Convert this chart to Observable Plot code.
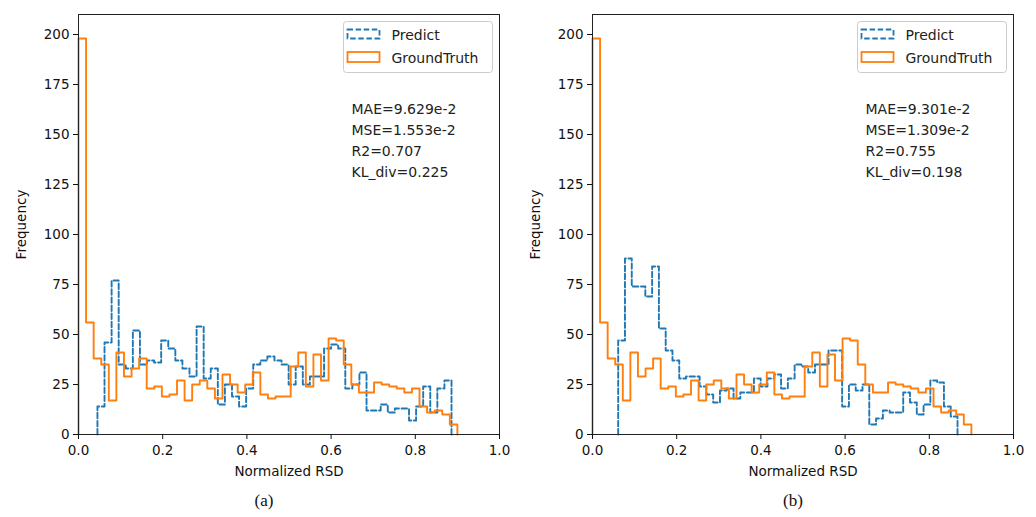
<!DOCTYPE html>
<html>
<head>
<meta charset="utf-8">
<script src="https://cdn.jsdelivr.net/npm/d3@7"></script>
<script src="https://cdn.jsdelivr.net/npm/@observablehq/plot@0.6"></script>
<style>
  html, body { margin: 0; padding: 0; background: #fff; }
  #wrap { position: relative; width: 1036px; height: 517px; overflow: hidden; font-family: "DejaVu Sans", sans-serif; }
  .panel { position: absolute; top: 0; width: 518px; height: 517px; }
  .panel svg.overlay { position: absolute; left: 0; top: 0; pointer-events: none; }
  .caption { position: absolute; top: 491px; font-family: "Liberation Serif", "Times New Roman", serif; font-size: 17px; color: #111; transform: translateX(-50%); }
</style>
</head>
<body>
<div id="wrap"></div>
<script>
// ---- data ----
const xTicks = [0, 0.2, 0.4, 0.6, 0.8, 1.0];
const yTicks = [0, 25, 50, 75, 100, 125, 150, 175, 200];
const seriesNames = ["Predict", "GroundTruth"];
const panelLabels = ["(a)", "(b)"];

// GroundTruth histogram (same in both panels): 50 bins over [0, 0.9]
const truthRange = [0, 0.9];
const truthCounts = [198, 56, 38, 35, 17, 41, 29, 33, 38, 23,
                     24, 19, 20, 27, 17, 25, 27, 23, 18, 30,
                     25, 21, 25, 31, 20, 18, 19, 19, 34, 41,
                     24, 40, 27, 48, 47, 35, 25, 21, 21, 26,
                     25, 24, 23, 21, 23, 14, 11, 12, 10, 5];

// Predict histogram, panel (a): 50 bins
const predictRangeA = [0.045, 0.886];
const predictCountsA = [14, 46, 77, 35, 33, 52, 35, 37, 36, 47,
                        43, 37, 33, 29, 54, 28, 33, 15, 25, 19,
                        14, 23, 35, 37, 39, 37, 35, 25, 34, 25,
                        29, 29, 43, 45, 43, 23, 25, 31, 12, 12,
                        15, 11, 13, 13, 7, 14, 24, 11, 23, 27];

// Predict histogram, panel (b): 50 bins
const predictRangeB = [0.061, 0.867];
const predictCountsB = [47, 88, 74, 74, 69, 84, 53, 42, 37, 28,
                        29, 29, 24, 20, 16, 22, 23, 18, 21, 21,
                        28, 24, 28, 30, 23, 28, 35, 34, 31, 35,
                        35, 42, 42, 14, 25, 22, 25, 5, 8, 12,
                        11, 11, 21, 16, 10, 15, 27, 26, 14, 9];

const statsA = ["MAE=9.629e-2", "MSE=1.553e-2", "R2=0.707", "KL_div=0.225"];
const statsB = ["MAE=9.301e-2", "MSE=1.309e-2", "R2=0.755", "KL_div=0.198"];

// ---- helpers ----
const BLUE = "#1f77b4", ORANGE = "#ff7f0e";

function stepPoints(range, counts) {
  const n = counts.length, w = (range[1] - range[0]) / n;
  const pts = [{x: range[0], y: 0}];
  counts.forEach((c, i) => {
    pts.push({x: range[0] + i * w, y: c});
    pts.push({x: range[0] + (i + 1) * w, y: c});
  });
  pts.push({x: range[1], y: 0});
  return pts;
}

function makePanel(left, predictRange, predictCounts, stats, caption, captionX) {
  const panel = document.createElement("div");
  panel.className = "panel";
  panel.style.left = left + "px";

  const chart = Plot.plot({
    width: 518,
    height: 478,
    marginLeft: 78,
    marginRight: 19,
    marginTop: 14,
    marginBottom: 44,
    style: {fontFamily: "DejaVu Sans, sans-serif", fontSize: "13.5px", color: "#111", background: "transparent"},
    x: {domain: [0, 1]},
    y: {domain: [0, 210]},
    marks: [
      Plot.line(stepPoints(predictRange, predictCounts), {x: "x", y: "y", stroke: BLUE, strokeWidth: 1.9, strokeDasharray: "5.5,2.6", curve: "linear"}),
      Plot.line(stepPoints(truthRange, truthCounts), {x: "x", y: "y", stroke: ORANGE, strokeWidth: 1.9, curve: "linear"}),
      Plot.frame({stroke: "#222", strokeWidth: 1}),
      Plot.axisX({ticks: xTicks, tickFormat: d3.format(".1f"), tickSize: 5, tickPadding: 6,
                  label: "Normalized RSD", labelAnchor: "center", labelArrow: "none", labelOffset: 41}),
      Plot.axisY({ticks: yTicks, tickSize: 5, tickPadding: 4,
                  label: "Frequency", labelAnchor: "center", labelArrow: "none", labelOffset: 62})
    ]
  });
  panel.appendChild(chart);

  // legend + stats overlay
  const ns = "http://www.w3.org/2000/svg";
  const ov = document.createElementNS(ns, "svg");
  ov.setAttribute("class", "overlay");
  ov.setAttribute("width", 518);
  ov.setAttribute("height", 470);
  const fnt = 'font-family="DejaVu Sans, sans-serif" font-size="14" fill="#222"';
  let s = `<rect x="343.5" y="21.5" width="149" height="51" rx="3" fill="white" fill-opacity="0.8" stroke="#cccccc" stroke-width="1"/>`;
  s += `<rect x="347.5" y="29.5" width="32" height="9" fill="none" stroke="${BLUE}" stroke-width="1.8" stroke-dasharray="5.5,2.6"/>`;
  s += `<text x="391.5" y="40" ${fnt}>${seriesNames[0]}</text>`;
  s += `<rect x="347.5" y="52" width="32" height="10" fill="none" stroke="${ORANGE}" stroke-width="1.8"/>`;
  s += `<text x="391.5" y="62.5" ${fnt}>${seriesNames[1]}</text>`;
  stats.forEach((t, i) => {
    s += `<text x="351.5" y="${114 + i * 21}" ${fnt}>${t}</text>`;
  });
  ov.innerHTML = s;
  panel.appendChild(ov);

  const cap = document.createElement("div");
  cap.className = "caption";
  cap.style.left = captionX + "px";
  cap.textContent = caption;
  panel.appendChild(cap);
  return panel;
}

const wrap = document.getElementById("wrap");
wrap.appendChild(makePanel(0, predictRangeA, predictCountsA, statsA, panelLabels[0], 264));
wrap.appendChild(makePanel(514, predictRangeB, predictCountsB, statsB, panelLabels[1], 279));
</script>
</body>
</html>
